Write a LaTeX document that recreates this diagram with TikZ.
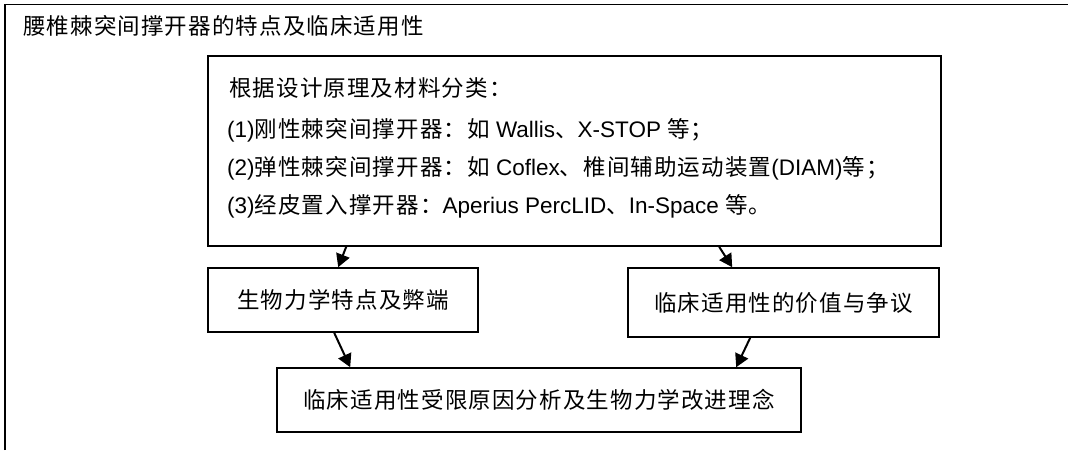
\documentclass[tikz,border=0pt]{standalone}
\usepackage{fontspec}
\setmainfont{Liberation Sans}
\newfontfamily\cjkfont[LetterSpace=5]{Noto Sans CJK SC}
\newcommand\zh[1]{{\cjkfont #1}}
\usetikzlibrary{arrows.meta}
\tikzset{
  txt/.style={font=\fontsize{22.5pt}{27pt}\selectfont, inner sep=0pt, anchor=base west},
  boxa/.style={draw=black, line width=1.6pt, inner sep=0pt, font=\fontsize{22.5pt}{27pt}\selectfont},
  arr/.style={line width=2pt, -{Triangle[length=13pt,width=14pt]}},
  frame/.style={line width=1.3pt}
}
\begin{document}
\begin{tikzpicture}[x=1pt,y=-1pt]
\useasboundingbox (0,0) rectangle (1068,450);
% outer frame (top and left only visible)
\coordinate (fa) at (5,450);
\coordinate (fb) at (5,4.5);
\coordinate (fc) at (1068,4.5);
\draw[frame] (fa) -- (fb) -- (fc);
\node[txt] (title) at (23,34.5) {\zh{腰椎棘突间撑开器的特点及临床适用性}};
% main box
\node[boxa, minimum width=733pt, minimum height=190pt] (main) at (574.5,151) {};
\node[txt] (l1) at (229,96.5) {\zh{根据设计原理及材料分类：}};
\node[txt] (l2) at (227,137.5) {(1)\zh{刚性棘突间撑开器：如} Wallis\zh{、}X-STOP \zh{等；}};
\node[txt] (l3) at (227,175) {(2)\zh{弹性棘突间撑开器：如} Coflex\zh{、椎间辅助运动装置}(DIAM)\zh{等；}};
\node[txt] (l4) at (227,213.5) {(3)\zh{经皮置入撑开器：}Aperius PercLID\zh{、}In-Space \zh{等。}};
% sub boxes
\node[boxa, minimum width=270pt, minimum height=64pt] (lbox) at (343,300) {\zh{生物力学特点及弊端}};
\node[boxa, minimum width=311pt, minimum height=69pt] (rbox) at (783.5,302.5) {\zh{临床适用性的价值与争议}};
\node[boxa, minimum width=524pt, minimum height=64pt] (bbox) at (539,400) {\zh{临床适用性受限原因分析及生物力学改进理念}};
% connectors
\draw[arr] ([xshift=139pt]main.south west) -- ([xshift=131pt]lbox.north west);
\draw[arr] ([xshift=512pt]main.south west) -- ([xshift=105pt]rbox.north west);
\draw[arr] ([xshift=127pt]lbox.south west) -- ([xshift=74pt]bbox.north west);
\draw[arr] ([xshift=123pt]rbox.south west) -- ([xshift=460pt]bbox.north west);
\end{tikzpicture}
\end{document}
